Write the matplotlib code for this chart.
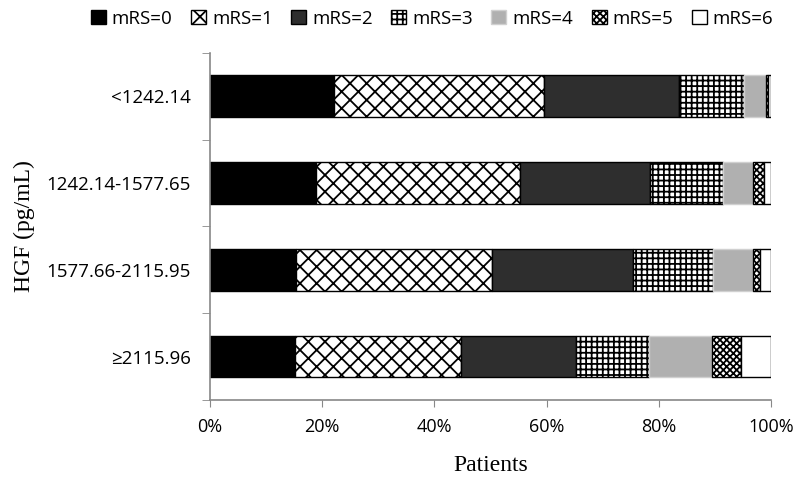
import matplotlib
matplotlib.use("Agg")
import matplotlib.pyplot as plt
import numpy as np

groups = ["<1242.14", "1242.14-1577.65", "1577.66-2115.95", "\u22652115.96"]
mrs_labels = ["mRS=0", "mRS=1", "mRS=2", "mRS=3", "mRS=4", "mRS=5", "mRS=6"]

# percent of patients per mRS score, one list per HGF group
lt_1242 = [22.1, 37.5, 24.0, 11.6, 3.8, 0.5, 0.5]
g_1242_1577 = [18.8, 36.5, 23.1, 13.0, 5.3, 2.1, 1.2]
g_1577_2115 = [15.4, 34.9, 25.0, 14.3, 7.1, 1.3, 2.0]
ge_2115 = [15.2, 29.5, 20.6, 13.0, 11.2, 5.2, 5.3]

data = np.array([lt_1242, g_1242_1577, g_1577_2115, ge_2115])

faces = ["black", "white", "#2e2e2e", "white", "#b0b0b0", "white", "white"]
hatches = [None, "xx", None, "+++", None, "xxxxx", None]

plt.rcParams["hatch.linewidth"] = 1.3
plt.rcParams["font.family"] = ["Open Sans", "DejaVu Sans"]

fig = plt.figure(figsize=(8, 4.9), dpi=100)
ax = fig.add_axes([0.2625, 0.1837, 0.7015, 0.7083])

y = np.arange(len(groups))
left = np.zeros(len(groups))
handles = []
for i, lab in enumerate(mrs_labels):
    b = ax.barh(y, data[:, i], left=left, height=0.48, color=faces[i],
                hatch=hatches[i], edgecolor="black", linewidth=1.0, label=lab)
    if i == 4:
        for p in b:
            p.set_edgecolor("#d0d0d0")
    left += data[:, i]
    handles.append(b)

ax.set_xlim(0, 100)
ax.set_ylim(len(groups) - 0.5, -0.5)
ax.set_xticks(np.arange(0, 101, 20))
ax.set_xticklabels([f"{v}%" for v in range(0, 101, 20)], fontsize=13)
ax.set_yticks(y)
ax.set_yticklabels(groups, fontsize=13.5)
ax.tick_params(axis="y", length=0, pad=14)
ax.set_yticks(np.arange(-0.5, len(groups), 1), minor=True)
ax.tick_params(axis="y", which="minor", length=6, color="#888888", direction="out")
ax.tick_params(axis="x", length=5, color="#888888", direction="out", pad=8)

for s in ["top", "right"]:
    ax.spines[s].set_visible(False)
for s in ["left", "bottom"]:
    ax.spines[s].set_color("#888888")
    ax.spines[s].set_linewidth(1.2)

ax.set_ylabel("HGF (pg/mL)", fontsize=17, family="Liberation Serif", labelpad=8)
ax.set_xlabel("Patients", fontsize=17, family="Liberation Serif", labelpad=14)

fig.legend(handles=handles, labels=mrs_labels, loc="upper center",
           bbox_to_anchor=(0.54, 1.015), ncol=7, frameon=False, fontsize=13.5,
           handlelength=0.8, handleheight=0.8, handletextpad=0.3,
           columnspacing=1.0)

fig.savefig("out.png", dpi=100)
